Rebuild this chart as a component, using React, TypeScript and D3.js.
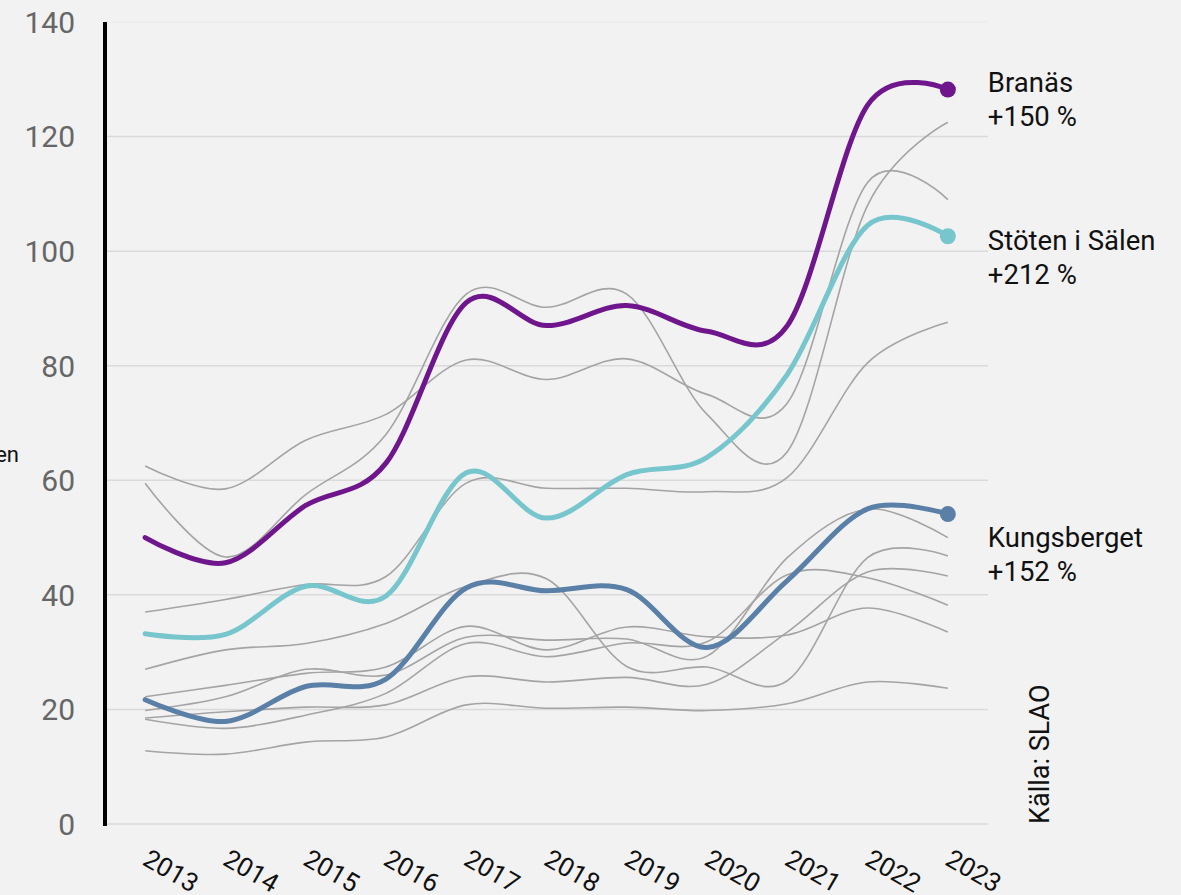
import React from 'react';
import * as d3 from 'd3';

const width = 1181;
const height = 895;

// --- Data ---
const years = [2013, 2014, 2015, 2016, 2017, 2018, 2019, 2020, 2021, 2022, 2023];
const yTicks = [0, 20, 40, 60, 80, 100, 120, 140];

const branas = [50, 45.6, 55.6, 63, 91, 87, 90.5, 86, 87, 125.5, 128.2];
const stoten = [33.2, 33.1, 41.5, 39.8, 61.3, 53.4, 61, 64, 78.5, 104.5, 102.6];
const kungsberget = [21.7, 17.9, 24, 25.3, 41.2, 40.7, 40.9, 30.8, 42.5, 55, 54.1];

// other resorts (grey background lines)
const resortA = [62.5, 58.5, 67, 71.5, 81, 77.6, 81.2, 75, 73.5, 112, 109];
const resortB = [59.5, 46.6, 57.5, 68, 92.5, 90.2, 92.5, 71.5, 65, 108, 122.5];
const resortC = [37, 39.2, 41.8, 43.2, 59.5, 58.6, 58.6, 58, 60.5, 80.5, 87.6];
const resortD = [27, 30.4, 31.5, 35, 41.5, 42.8, 27.5, 27.4, 25, 46.5, 46.8];
const resortE = [22.2, 24.2, 26.3, 27.4, 34.5, 30.4, 34.4, 32.7, 33, 37.7, 33.5];
const resortF = [19.8, 22.2, 27, 26, 32.6, 32.1, 32.3, 29.3, 46.5, 55, 50];
const resortG = [18.3, 16.7, 19, 22.8, 31.5, 29.2, 31.6, 31.8, 43.5, 43, 38.2];
const resortH = [18.5, 19.6, 20.4, 20.8, 25.7, 24.8, 25.6, 24.4, 33.5, 44, 43.3];
const resortI = [12.8, 12.2, 14.3, 15.2, 20.8, 20.2, 20.4, 19.8, 21, 24.8, 23.7];

const greySeries = [resortA, resortB, resortC, resortD, resortE, resortF, resortG, resortH, resortI];

const highlighted = [
  { name: 'Kungsberget', change: '+152 %', values: kungsberget, color: '#5a80a8', labelDy: 33 },
  { name: 'Stöten i Sälen', change: '+212 %', values: stoten, color: '#78c6cd', labelDy: 14 },
  { name: 'Branäs', change: '+150 %', values: branas, color: '#6f168d', labelDy: 2 },
];

const font = 'Roboto, "Noto Sans", sans-serif';

export default function App() {
  const margin = { left: 105, right: 193, top: 22, bottom: 71 };

  const x = d3.scalePoint<number>()
    .domain(years)
    .range([margin.left, width - margin.right])
    .padding(0.5);

  const y = d3.scaleLinear()
    .domain([0, 140])
    .range([height - margin.bottom, margin.top]);

  const line = d3.line<number>()
    .x((_, i) => x(years[i]) as number)
    .y(d => y(d))
    .curve(d3.curveCardinal.tension(0));

  const lastX = x(years[years.length - 1]) as number;

  return (
    <div style={{ position: 'fixed', inset: 0, background: '#f2f2f2' }}>
      <svg width={width} height={height} style={{ position: 'absolute', left: 0, top: 0 }}>
        <rect width={width} height={height} fill="#f2f2f2" />

        {/* grid */}
        {yTicks.map(t => (
          <line key={t} x1={margin.left} x2={width - margin.right} y1={y(t)} y2={y(t)}
            stroke={t === 140 ? '#ececec' : '#dadada'} strokeWidth={1.5} />
        ))}

        {/* y labels */}
        {yTicks.map(t => (
          <text key={t} x={75} y={y(t)} dy="0.36em" textAnchor="end" fontFamily={font}
            fontSize={30} fill="#666">{t}</text>
        ))}

        {/* clipped axis title */}
        <text x={19} y={462} textAnchor="end" fontFamily={font} fontSize={22} fill="#111">en</text>

        {/* grey lines */}
        {greySeries.map((s, i) => (
          <path key={i} d={line(s) || ''} fill="none" stroke="#a4a4a4" strokeWidth={1.6} />
        ))}

        {/* highlighted lines */}
        {highlighted.map(h => (
          <g key={h.name}>
            <path d={line(h.values) || ''} fill="none" stroke={h.color} strokeWidth={5} strokeLinecap="round" />
            <circle cx={lastX} cy={y(h.values[h.values.length - 1])} r={8} fill={h.color} />
            <text x={lastX + 40} y={y(h.values[h.values.length - 1]) + h.labelDy}
              fontFamily={font} fontSize={27.5} fill="#111">
              <tspan>{h.name}</tspan>
              <tspan x={lastX + 40} dy={34}>{h.change}</tspan>
            </text>
          </g>
        ))}

        {/* y axis */}
        <line x1={margin.left} x2={margin.left} y1={margin.top} y2={y(0) + 2} stroke="#000" strokeWidth={4} />

        {/* x labels */}
        {years.map(yr => (
          <text key={yr} transform={`translate(${(x(yr) as number) - 4},${y(0) + 40}) rotate(30)`}
            fontFamily={font} fontSize={26} fill="#111">{yr}</text>
        ))}

        {/* source */}
        <text transform={`translate(1049,${y(0)}) rotate(-90)`} fontFamily={font} fontSize={27} fill="#111">
          Källa: SLAO
        </text>
      </svg>
    </div>
  );
}
